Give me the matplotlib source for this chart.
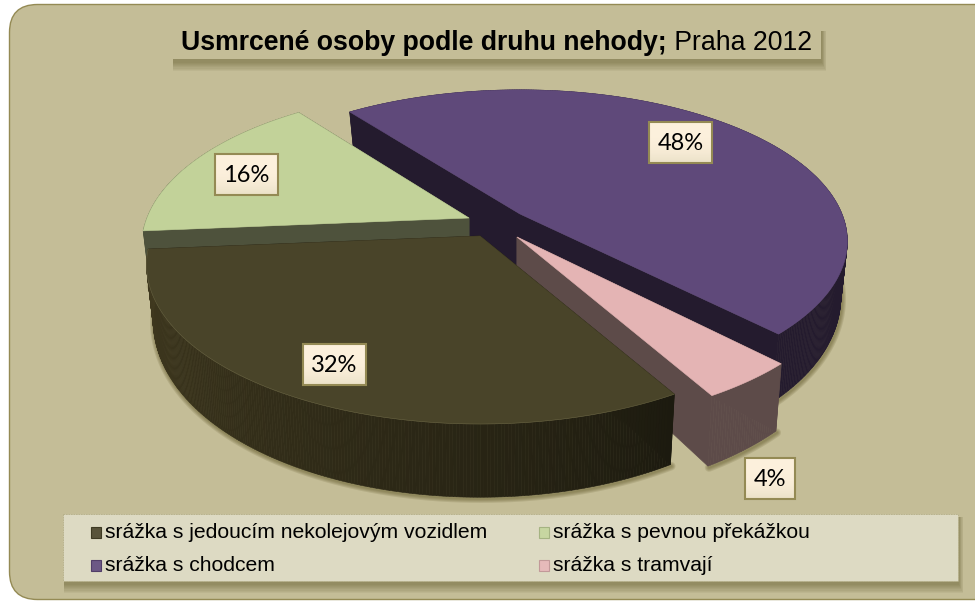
import numpy as np
import matplotlib
matplotlib.use('Agg')
import matplotlib.pyplot as plt
from matplotlib.patches import Polygon, Rectangle, FancyBboxPatch

categories = ['srážka s jedoucím nekolejovým vozidlem', 'srážka s pevnou překážkou',
              'srážka s chodcem', 'srážka s tramvají']
values = [32, 16, 48, 4]
top_colors = ['#494429', '#c2d299', '#5f497a', '#e4b4b4']
side_colors = ['#1c1a0f', '#4e523c', '#241b2e', '#5d4b49']
# where each exploded slice has its tip on the canvas
tips = [(480, 236), (469, 218), (520, 214), (517, 237)]
radii = [328, 322, 322, 329]
squash = [0.47, 0.47, 0.455, 0.47]
tip_drop = [52, 52, 75, 52]
label_boxes = [(303, 344), (215, 154), (649, 122), (745, 458)]

start_angle = 60
persp = 0.18

title_bold = 'Usmrcené osoby podle druhu nehody;'
title_rest = ' Praha 2012'

panel = '#c4bd97'


def rim(i, a, shrink=1.0, down=False):
    # point of slice i's edge at angle a (degrees, clockwise from the right)
    t = np.radians(a)
    r = radii[i] * shrink / (1 - persp * np.sin(t))
    x = tips[i][0] + r * np.cos(t)
    y = tips[i][1] + r * squash[i] * np.sin(t)
    if down:
        y = y + 52 + 25 * np.sin(t)
    return x, y


def blend(c1, c2, f):
    c1 = np.array(matplotlib.colors.to_rgb(c1))
    c2 = np.array(matplotlib.colors.to_rgb(c2))
    return tuple(c1 + (c2 - c1) * f)


fig = plt.figure(figsize=(9.75, 6.01), dpi=100)
ax = fig.add_axes([0, 0, 1, 1])
ax.set_xlim(0, 975)
ax.set_ylim(601, 0)
ax.axis('off')

# background panel, runs off the right edge
ax.add_patch(FancyBboxPatch((9.5, 4.5), 1000, 595, boxstyle='round,pad=0,rounding_size=28',
                            fc=panel, ec='#948a54', lw=1, zorder=1))


def shadow_box(x, y, w, h, fc, zo, ec='none'):
    # blurred drop shadow made of stacked see-through boxes
    for i in range(8):
        ax.add_patch(Rectangle((x + 1, y + 3), w + i * 0.6, h + 1 + i * 1.1,
                               fc='#5e5526', ec='none', alpha=0.07, zorder=zo))
    ax.add_patch(Rectangle((x, y), w, h, fc=fc, ec=ec, lw=0.6, ls=(0, (2, 1)), zorder=zo + 0.1))


shadow_box(172, 28, 649, 31, panel, 2)
t1 = ax.text(181, 50, title_bold, fontsize=19.15, fontweight='bold', family='Liberation Sans',
             va='baseline', ha='left', zorder=3)
ax.annotate(title_rest, xy=(1, 0), xycoords=t1, xytext=(0, 0), textcoords='offset points',
            fontsize=19.15, family='Liberation Sans', va='bottom', ha='left', zorder=3)

# slice angles from the values
edges = start_angle + np.cumsum([0] + values) * 3.6
order = [2, 3, 1, 0]

for n, i in enumerate(order):
    a0, a1 = edges[i], edges[i + 1]
    angs = np.linspace(a0, a1, int(a1 - a0) * 2 + 2)
    tip = tips[i]
    zo = 5 + n
    top = [rim(i, a) for a in angs]
    low = [rim(i, a, 0.98, True) for a in angs]
    tip_low = (tip[0], tip[1] + tip_drop[i])

    # soft shadow on the panel, only where the wall faces the viewer
    vis = [p for p, a in zip(low, angs) if np.sin(np.radians(a)) > -0.1]
    if i == 2:
        vis = [p for p, a in zip(low, angs) if a > 355]
    sx = [p[0] + 1 for p in vis]
    sy = [p[1] + 1.5 for p in vis]
    for lw in [1.5, 3, 4.5, 6]:
        ax.plot(sx, sy, color='#5e5526', lw=lw, alpha=0.16, solid_capstyle='round', zorder=4)

    # cut faces
    ax.add_patch(Polygon([tip, top[0], low[0], tip_low], fc=side_colors[i], ec=side_colors[i], lw=0.5, zorder=zo))
    ax.add_patch(Polygon([tip, top[-1], low[-1], tip_low], fc=side_colors[i], ec=side_colors[i], lw=0.5, zorder=zo))
    # outer wall in strips, big slice gets lighter towards the left
    for j in range(len(angs) - 1):
        col = side_colors[i]
        if i == 0:
            f = np.clip((angs[j] - 60) / 115, 0, 1)
            col = blend('#1c1a0f', '#40391f', f ** 0.8)
        ax.add_patch(Polygon([top[j], top[j + 1], low[j + 1], low[j]], fc=col, ec=col, lw=0.4, zorder=zo))
    ax.add_patch(Polygon([tip] + top, fc=top_colors[i], ec=top_colors[i], lw=0.4, zorder=zo + 0.5))
    if i == 0:
        # faint light rim on the big slice
        ax.plot([p[0] for p in top], [p[1] for p in top], color='#6f6a48', lw=0.4, alpha=0.7, zorder=zo + 0.6)

# percent labels
for v, (x, y) in zip(values, label_boxes):
    w = 63 if v >= 10 else 50
    h = 41
    grad = np.linspace(0, 1, 32)
    cols = np.array([blend('#fdf1dd', '#ebe1c8', g ** 3) for g in grad]).reshape(-1, 1, 3)
    ax.imshow(cols, extent=(x, x + w, y + h, y), aspect='auto', zorder=20)
    ax.add_patch(Rectangle((x, y), w, h, fc='none', ec='#948a54', lw=1.5, zorder=21))
    ax.text(x + w / 2, y + h / 2 + 0.5, f'{v}%', fontsize=17, family='Lato', ha='center', va='center', zorder=22)
ax.set_xlim(0, 975)
ax.set_ylim(601, 0)

# legend
shadow_box(63, 514, 895, 67, '#dddac3', 25, ec='#b5af88')
leg_pos = [(91, 537.5), (539, 537.5), (91, 571), (539, 571)]
for (x, y), name, c in zip(leg_pos, categories, top_colors):
    ax.add_patch(Rectangle((x, y - 11), 10, 11, fc=blend(c, '#ffffff', 0.08), ec=blend(c, '#000000', 0.15), lw=0.8, zorder=27))
    ax.text(x + 14, y, name, fontsize=15.2, family='Liberation Sans', va='baseline', ha='left', zorder=27)

fig.savefig('out.png', dpi=100)
